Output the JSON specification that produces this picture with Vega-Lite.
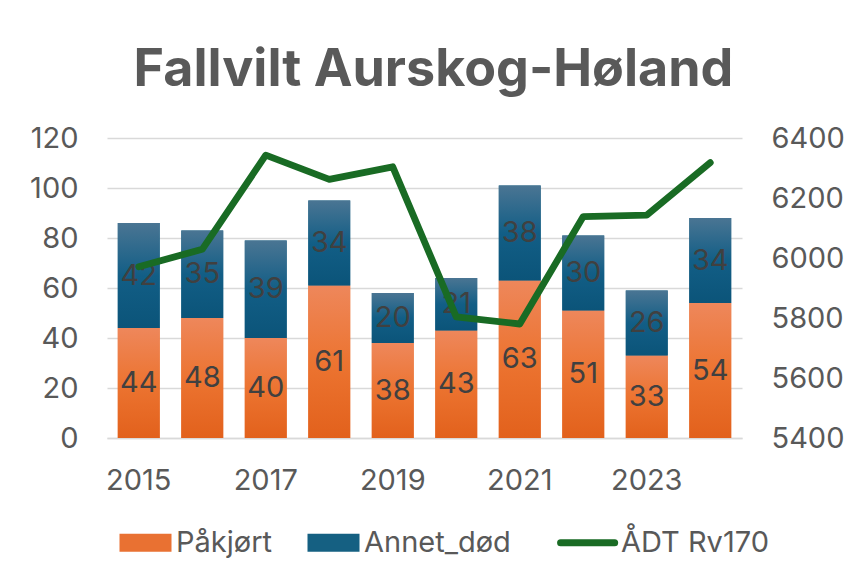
{
  "$schema": "https://vega.github.io/schema/vega-lite/v6.json",
  "width": 635,
  "height": 300,
  "autosize": "none",
  "padding": {"left": 107, "top": 138, "right": 103, "bottom": 140},
  "background": "white",
  "config": {
    "view": {"stroke": null},
    "font": "Inter",
    "axis": {"labelFont": "Inter", "labelFontSize": 29, "labelColor": "#595959", "ticks": false, "domain": false, "title": null, "grid": false}
  },
  "title": {
    "text": "Fallvilt Aurskog-Høland",
    "font": "Inter",
    "fontSize": 52,
    "fontWeight": "bold",
    "color": "#595959",
    "anchor": "middle",
    "frame": "group",
    "baseline": "alphabetic",
    "offset": -14,
    "dx": 9
  },
  "datasets": {
    "counts": [
      {"year": 2015, "type": "Påkjørt", "value": 44},
      {"year": 2015, "type": "Annet_død", "value": 42},
      {"year": 2016, "type": "Påkjørt", "value": 48},
      {"year": 2016, "type": "Annet_død", "value": 35},
      {"year": 2017, "type": "Påkjørt", "value": 40},
      {"year": 2017, "type": "Annet_død", "value": 39},
      {"year": 2018, "type": "Påkjørt", "value": 61},
      {"year": 2018, "type": "Annet_død", "value": 34},
      {"year": 2019, "type": "Påkjørt", "value": 38},
      {"year": 2019, "type": "Annet_død", "value": 20},
      {"year": 2020, "type": "Påkjørt", "value": 43},
      {"year": 2020, "type": "Annet_død", "value": 21},
      {"year": 2021, "type": "Påkjørt", "value": 63},
      {"year": 2021, "type": "Annet_død", "value": 38},
      {"year": 2022, "type": "Påkjørt", "value": 51},
      {"year": 2022, "type": "Annet_død", "value": 30},
      {"year": 2023, "type": "Påkjørt", "value": 33},
      {"year": 2023, "type": "Annet_død", "value": 26},
      {"year": 2024, "type": "Påkjørt", "value": 54},
      {"year": 2024, "type": "Annet_død", "value": 34}
    ],
    "adt": [
      {"year": 2015, "adt": 5971},
      {"year": 2016, "adt": 6029},
      {"year": 2017, "adt": 6343},
      {"year": 2018, "adt": 6262},
      {"year": 2019, "adt": 6304},
      {"year": 2020, "adt": 5804},
      {"year": 2021, "adt": 5780},
      {"year": 2022, "adt": 6138},
      {"year": 2023, "adt": 6143},
      {"year": 2024, "adt": 6318}
    ]
  },
  "layer": [
    {
      "data": {"name": "counts"},
      "mark": {"type": "bar"},
      "encoding": {
        "x": {
          "field": "year", "type": "ordinal",
          "scale": {"paddingInner": 0.34, "paddingOuter": 0.17},
          "axis": {"values": [2015, 2017, 2019, 2021, 2023], "labelAngle": 0, "domain": true, "domainColor": "#D9D9D9", "domainWidth": 1.5, "labelPadding": 28, "labelBaseline": "top"}
        },
        "y": {
          "field": "value", "type": "quantitative", "stack": "zero",
          "scale": {"domain": [0, 120]},
          "axis": {"orient": "left", "values": [0, 20, 40, 60, 80, 100, 120], "grid": true, "gridColor": "#D9D9D9", "gridWidth": 1.3, "labelPadding": 29}
        },
        "color": {
          "field": "type", "type": "nominal",
          "scale": {"domain": ["Påkjørt", "Annet_død", "ÅDT Rv170"], "range": ["#E97132", "#156082", "#196B24"]},
          "legend": {
            "orient": "none",
            "legendX": 24,
            "legendY": 390,
            "direction": "horizontal",
            "title": null,
            "padding": 0,
            "labelFont": "Inter",
            "labelFontSize": 29,
            "labelColor": "#595959",
            "labelOffset": 16,
            "columnPadding": 35,
            "symbolSize": 2704,
            "symbolType": "M-1,-0.35L1,-0.35L1,0.35L-1,0.35Z",
            "encode": {
              "symbols": {
                "update": {
                  "shape": {"signal": "datum.value === 'ÅDT Rv170' ? 'M-1.92,0L0.16,0' : 'M-1,-0.35L1,-0.35L1,0.35L-1,0.35Z'"},
                  "fill": {"signal": "datum.value === 'Påkjørt' ? {gradient: 'linear', x1: 0, y1: 0, x2: 0, y2: 1, stops: [{offset: 0, color: '#EE875B'}, {offset: 0.5, color: '#EC7431'}, {offset: 1, color: '#E2611C'}]} : datum.value === 'Annet_død' ? {gradient: 'linear', x1: 0, y1: 0, x2: 0, y2: 1, stops: [{offset: 0, color: '#4A7593'}, {offset: 0.5, color: '#125E86'}, {offset: 1, color: '#0B5479'}]} : 'transparent'"},
                  "stroke": {"signal": "datum.value === 'ÅDT Rv170' ? '#196B24' : 'transparent'"},
                  "strokeWidth": {"signal": "datum.value === 'ÅDT Rv170' ? 7 : 0"},
                  "strokeCap": {"value": "round"},
                  "opacity": {"value": 1}
                }
              },
              "labels": {
                "update": {
                  "dx": {"signal": "datum.value === 'ÅDT Rv170' ? -20 : 0"}
                }
              }
            }
          }
        },
        "order": {"field": "type", "sort": "descending"}
      }
    },
    {
      "data": {"name": "counts"},
      "mark": {"type": "bar"},
      "encoding": {
        "x": {"field": "year", "type": "ordinal"},
        "y": {"field": "value", "type": "quantitative", "stack": "zero", "scale": {"domain": [0, 120]}, "axis": null},
        "detail": {"field": "type"},
        "order": {"field": "type", "sort": "descending"},
        "fill": {
          "condition": {
            "test": "datum.type === 'Påkjørt'",
            "value": {"gradient": "linear", "x1": 0, "y1": 0, "x2": 0, "y2": 1, "stops": [{"offset": 0, "color": "#EE875B"}, {"offset": 0.5, "color": "#EC7431"}, {"offset": 1, "color": "#E2611C"}]}
          },
          "value": {"gradient": "linear", "x1": 0, "y1": 0, "x2": 0, "y2": 1, "stops": [{"offset": 0, "color": "#4A7593"}, {"offset": 0.5, "color": "#125E86"}, {"offset": 1, "color": "#0B5479"}]}
        }
      }
    },
    {
      "data": {"name": "counts"},
      "mark": {"type": "text", "font": "Inter", "fontSize": 29, "color": "#404040", "baseline": "middle"},
      "encoding": {
        "x": {"field": "year", "type": "ordinal"},
        "y": {"field": "value", "type": "quantitative", "stack": "zero", "bandPosition": 0.5, "scale": {"domain": [0, 120]}, "axis": null},
        "detail": {"field": "type"},
        "order": {"field": "type", "sort": "descending"},
        "text": {"field": "value", "type": "quantitative"}
      }
    },
    {
      "data": {"name": "adt"},
      "mark": {"type": "line", "strokeWidth": 6.8, "strokeCap": "round", "strokeJoin": "round"},
      "encoding": {
        "x": {"field": "year", "type": "ordinal"},
        "y": {
          "field": "adt", "type": "quantitative",
          "scale": {"domain": [5400, 6400], "zero": false},
          "axis": {"orient": "right", "values": [5400, 5600, 5800, 6000, 6200, 6400], "format": "d", "labelPadding": 29, "grid": false}
        },
        "color": {"datum": "ÅDT Rv170"}
      }
    }
  ],
  "resolve": {"scale": {"y": "independent"}}
}
